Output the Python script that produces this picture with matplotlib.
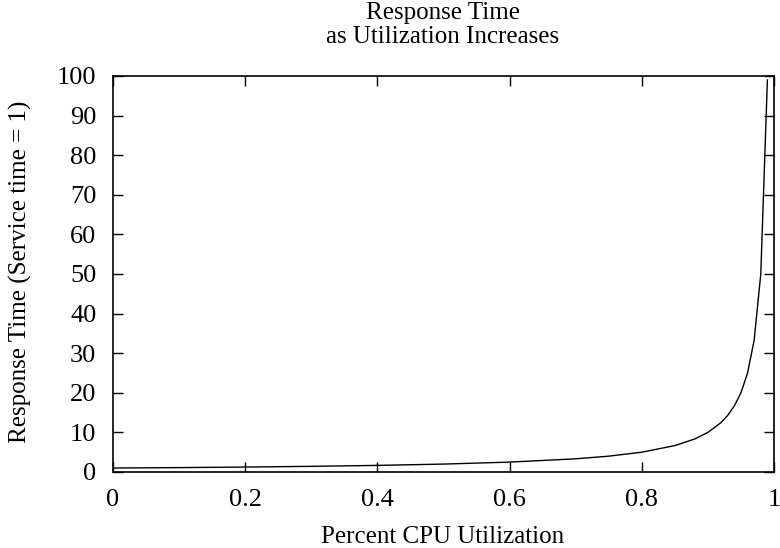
import matplotlib
matplotlib.use("Agg")
from matplotlib import pyplot as plt

# utilization samples and response time (service time = 1)
utilization = [0.0, 0.1, 0.2, 0.3, 0.4, 0.5, 0.6, 0.7, 0.75, 0.8, 0.85, 0.88,
               0.9, 0.92, 0.93, 0.94, 0.95, 0.96, 0.97, 0.98, 0.99]
response = [1.0, 1.11, 1.25, 1.43, 1.67, 2.0, 2.5, 3.33, 4.0, 5.0, 6.67, 8.33,
            10.0, 12.5, 14.3, 16.7, 20.0, 25.0, 33.3, 50.0, 99.0]

x_ticks = [0, 0.2, 0.4, 0.6, 0.8, 1]
x_labels = ["0", "0.2", "0.4", "0.6", "0.8", "1"]
y_ticks = list(range(0, 101, 10))

plt.rcParams['font.family'] = ['Liberation Serif', 'DejaVu Serif']

W, H = 780, 548
fig = plt.figure(figsize=(W/100, H/100), dpi=100)
ax = fig.add_axes([113/W, 1 - 472/H, (774 - 113)/W, (472 - 76)/H])

ax.plot(utilization, response, color='black', lw=1.0)

ax.set_xlim(0, 1)
ax.set_ylim(0, 100)
ax.set_xticks(x_ticks)
ax.set_xticklabels(x_labels)
ax.set_yticks(y_ticks)
ax.tick_params(direction='in', length=7, width=1, top=True, right=True,
               labelsize=19, pad=12)
ax.tick_params(axis='y', pad=12)
for s in ax.spines.values():
    s.set_linewidth(1.2)

fig.text(443/W, 1 - 13/H, "Response Time", fontsize=18, ha='center', va='center')
fig.text(443/W, 1 - 37/H, "as Utilization Increases", fontsize=18,
         ha='center', va='center')
fig.text(443/W, 1 - 537/H, "Percent CPU Utilization", fontsize=18,
         ha='center', va='center')
fig.text(20/W, 1 - 272/H, "Response Time (Service time = 1)", fontsize=18,
         ha='center', va='center', rotation=90)

fig.savefig("out.png", dpi=100)
